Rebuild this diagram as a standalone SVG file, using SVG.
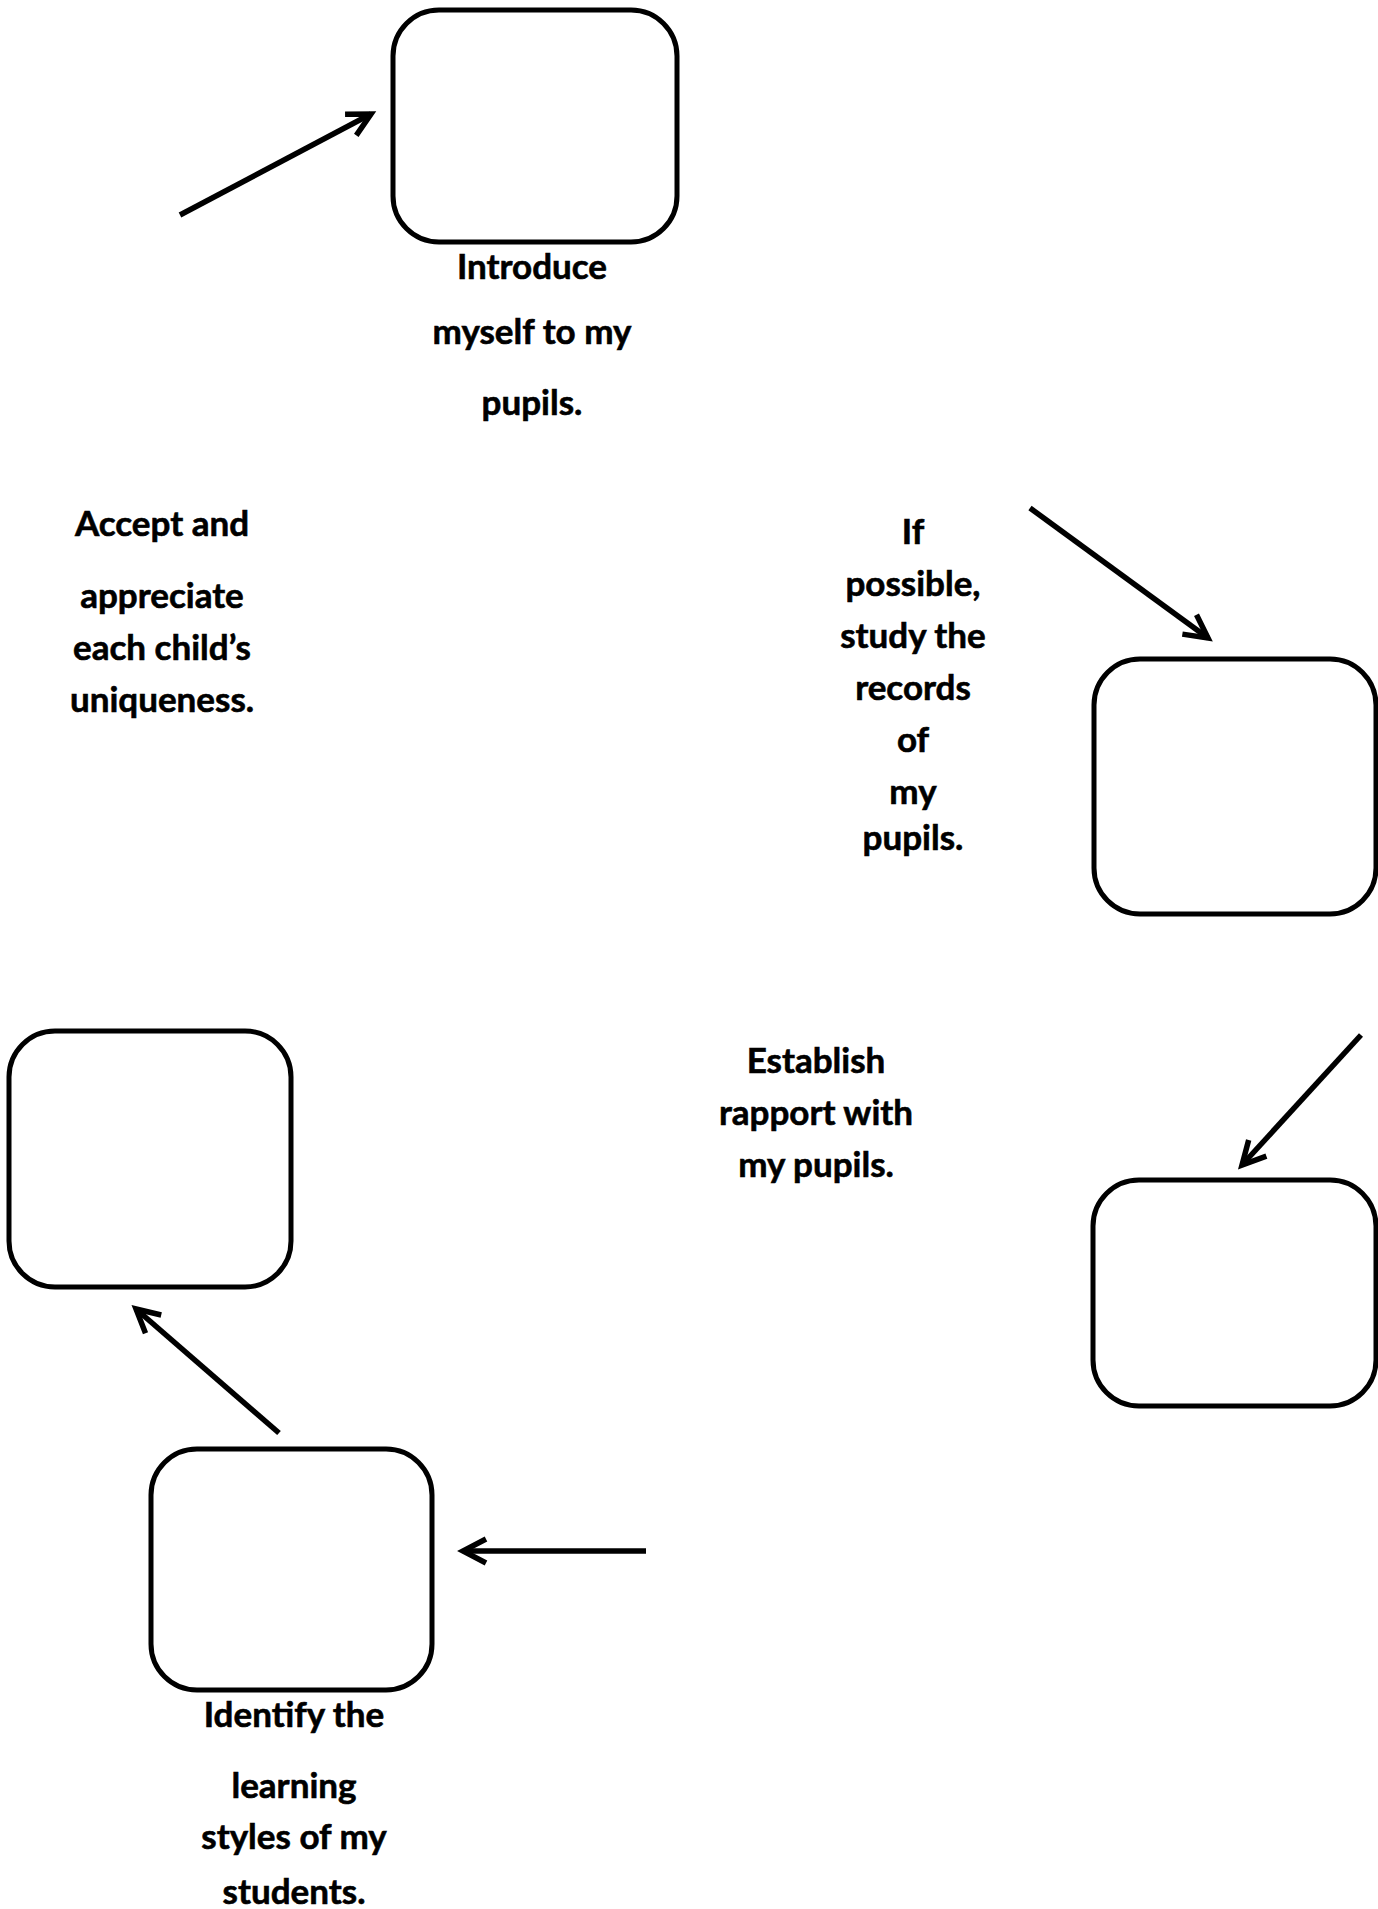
<svg xmlns="http://www.w3.org/2000/svg" width="1378" height="1909" viewBox="0 0 1378 1909">
<style>
.box{fill:#fff;stroke:#000;stroke-width:5}
.lbl{font-family:Lato,"Open Sans","Liberation Sans",sans-serif;font-weight:700;font-size:35px;fill:#000;text-anchor:middle;stroke:#000;stroke-width:0.6}
.con{stroke:#000;stroke-width:5.5;fill:none}
</style>
<defs>
<marker id="arr" markerUnits="userSpaceOnUse" markerWidth="60" markerHeight="60" viewBox="-30 -30 60 60" refX="0" refY="0" orient="auto" overflow="visible">
<path d="M-23,-12 L0,0 L-23,12" fill="none" stroke="#000" stroke-width="5.5" stroke-linejoin="miter"/>
</marker>
</defs>
<rect width="1378" height="1909" fill="#fff"/>
<g id="node-introduce">
<rect class="box" x="393" y="10" width="284" height="232" rx="46" ry="46"/>
<text class="lbl" x="532" y="279">Introduce</text>
<text class="lbl" x="532" y="344">myself to my</text>
<text class="lbl" x="532" y="415">pupils.</text>
</g>
<g id="node-records">
<rect class="box" x="1094" y="659" width="282" height="255" rx="46" ry="46"/>
<text class="lbl" x="913" y="544">If</text>
<text class="lbl" x="913" y="596">possible,</text>
<text class="lbl" x="913" y="648">study the</text>
<text class="lbl" x="913" y="700">records</text>
<text class="lbl" x="913" y="752">of</text>
<text class="lbl" x="913" y="804">my</text>
<text class="lbl" x="913" y="850">pupils.</text>
</g>
<g id="node-rapport">
<rect class="box" x="1093" y="1180" width="283" height="226" rx="46" ry="46"/>
<text class="lbl" x="816" y="1073">Establish</text>
<text class="lbl" x="816" y="1125">rapport with</text>
<text class="lbl" x="816" y="1177">my pupils.</text>
</g>
<g id="node-learning">
<rect class="box" x="151" y="1449" width="281" height="241" rx="46" ry="46"/>
<text class="lbl" x="294" y="1727">Identify the</text>
<text class="lbl" x="294" y="1798">learning</text>
<text class="lbl" x="294" y="1849">styles of my</text>
<text class="lbl" x="294" y="1904">students.</text>
</g>
<g id="node-accept">
<rect class="box" x="9" y="1031" width="282" height="256" rx="46" ry="46"/>
<text class="lbl" x="162" y="536">Accept and</text>
<text class="lbl" x="162" y="608">appreciate</text>
<text class="lbl" x="162" y="660">each child’s</text>
<text class="lbl" x="162" y="712">uniqueness.</text>
</g>
<g id="connectors">
<line class="con" x1="180" y1="215" x2="371" y2="114" marker-end="url(#arr)"/>
<line class="con" x1="1030" y1="508" x2="1208" y2="638" marker-end="url(#arr)"/>
<line class="con" x1="1361" y1="1035" x2="1242" y2="1165" marker-end="url(#arr)"/>
<line class="con" x1="646" y1="1551" x2="463" y2="1551" marker-end="url(#arr)"/>
<line class="con" x1="279" y1="1433" x2="136" y2="1309" marker-end="url(#arr)"/>
</g>
</svg>
